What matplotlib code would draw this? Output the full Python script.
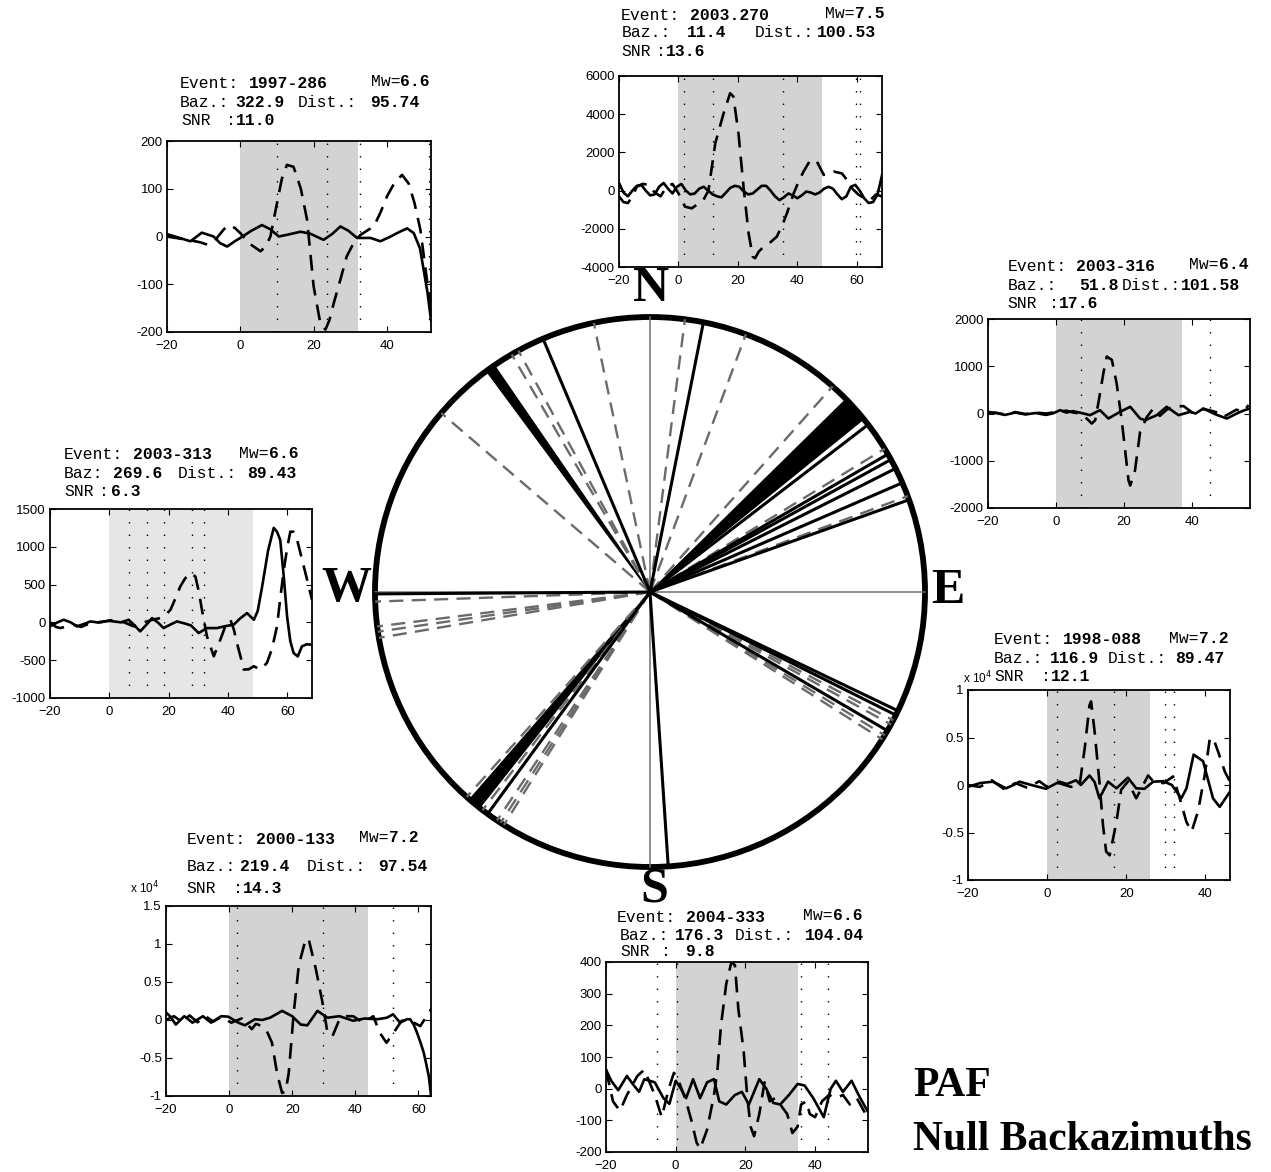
import numpy as np
import matplotlib.pyplot as plt
from matplotlib.patches import Circle, Wedge

W, H = 1271, 1172

# ---------------- rose: null backazimuths (deg clockwise from N)
solid_baz = [337.1, 11.2, 52.5, 59.9, 61.2, 63.3, 66.6, 70.4,
             115.6, 116.6, 120.3, 176.2, 216.2, 269.6]
dashed_baz = [348.2, 329.8, 331.4, 310.6, 7.3, 20.4, 41.6, 58.6, 69.6,
              117.8, 118.8, 121.4, 122.4, 268.0, 262.8, 261.7, 260.4,
              221.8, 217.5, 213.8, 212.9, 212.1]
wedge_baz = [(323.5, 325.5), (45.5, 51.0), (218.3, 221.0)]

# ---------------- event headers
events = ['1997-286', '2003.270', '2003-313', '2003-316', '1998-088', '2000-133', '2004-333']
mws = ['6.6', '7.5', '6.6', '6.4', '7.2', '7.2', '6.6']
bazs = ['322.9', '11.4', '269.6', '51.8', '116.9', '219.4', '176.3']
dists = ['95.74', '100.53', '89.43', '101.58', '89.47', '97.54', '104.04']
snrs = ['11.0', '13.6', '6.3', '17.6', '12.1', '14.3', '9.8']
baz_labels = ['Baz.:', 'Baz.:', 'Baz:', 'Baz.:', 'Baz.:', 'Baz.:', 'Baz.:']

# ---------------- time windows
span_end = [32.2, 48.3, 48.4, 37.0, 25.9, 43.9, 35.0]
dotted = [[10, 23.6, 32.7, 51.4], [2.0, 11.6, 35.2, 59.8, 61.2],
          [6.7, 12.7, 18.5, 27.9, 31.8], [7.4, 45.3], [2.5, 17, 29.7, 32],
          [2.4, 29.8, 51.9], [-5.4, 0.3, 35.9, 43.8]]

# ---------------- waveforms (time s, amplitude); panels 5,6 in units of 1e4
p1_solid = [(-20, 5), (-17, -2), (-13.6, -10), (-10.5, 8), (-7.3, 0), (-5.5, -14), (-3.6, -21),
            (-1.5, -10), (0, -3), (3, 12), (5.9, 24), (8.2, 15), (10.5, 0), (13, 4), (16.4, 10),
            (19, 6), (22.7, -7), (25, 5), (27.3, 21), (29.5, 12), (31.8, -3), (35.5, -3),
            (38.2, -10), (41, 0), (43.5, 10), (45.5, 17), (47.3, 7), (49, -25), (50, -70),
            (51, -115), (52, -175)]
p1_dash = [(-20, 0), (-16, -5), (-13.6, -8), (-11, -12), (-9, -17), (-6.4, -3), (-4.5, 15),
           (-3.2, 24), (-1.5, 18), (0, 7), (2.5, -15), (5.5, -31), (7, -20), (8.2, 0), (10, 70),
           (11.3, 120), (12.7, 150), (14.5, 146), (16.5, 100), (18.2, 35), (20, -105),
           (21.8, -181), (23.2, -195), (24.3, -175), (25.5, -139), (27.3, -90), (29, -42),
           (31, -12), (32.7, 3), (34.5, 12), (36.4, 21), (38.2, 50), (40, 84), (42, 112),
           (44.1, 129), (45.9, 111), (47.5, 70), (49.1, 14), (50.9, -91), (52, -139)]
p2_solid = [(-20, 400), (-18.5, -100), (-17, -300), (-15.5, 0), (-14, 250), (-12.5, 300),
            (-11, 0), (-9.5, -250), (-8, -200), (-6.5, 200), (-5, 400), (-3.5, 100), (-2, -150),
            (-0.5, 200), (1, 350), (2.5, 0), (4, -200), (5.5, -150), (7, 100), (8.5, 200),
            (10, 0), (11.5, -200), (13, -300), (14.5, -350), (16, -100), (17.5, 150), (19, 250),
            (20.5, 200), (22, -50), (23.5, -200), (25, -150), (26.5, 50), (28, 250), (29.5, 250),
            (31, 0), (32.5, -300), (34, -500), (35.5, -350), (37, -150), (38.5, -250), (40, -400),
            (41.5, -250), (43, -50), (44.5, -100), (46, -200), (47.5, -100), (49, 100), (50.5, 200),
            (52, 100), (53.5, -200), (55, -450), (56.5, -300), (58, 200), (59.5, 300), (61, 0),
            (62.5, -400), (64, -650), (65.5, -600), (67, -200), (68.5, 800)]
p2_dash = [(-20, -300), (-18.5, -600), (-17, -650), (-15.5, -300), (-14, 200), (-12, 350),
           (-10, 300), (-8, -100), (-6, -300), (-4, 200), (-2, 350), (0, -140), (2.2, -840),
           (4.5, -930), (6.5, -700), (8.4, -490), (10.1, 0), (12.4, 2480), (15.2, 4050),
           (17.4, 5100), (18.5, 4920), (20.2, 3000), (21.9, 210), (23.6, -2230), (25, -3460),
           (25.8, -3540), (27, -3200), (28.7, -2930), (31, -2700), (33.1, -2410), (35, -1800),
           (36.5, -1190), (38.8, -140), (40.5, 500), (42.1, 1000), (44.4, 1600), (46.6, 1520),
           (48.9, 820), (50.5, 900), (52.2, 1000), (55, 900), (56.7, 560), (58.5, 100),
           (60.5, -200), (62.5, -400), (64.6, -490), (66.5, -200), (68.5, -310)]
p3_solid = [(-20, -53), (-17.5, 0), (-15.4, 35), (-13, 0), (-10.9, -53), (-8.5, -20), (-6.4, 13),
            (-4, 0), (-1.9, 13), (0, 20), (1.5, 13), (4, 0), (6.5, 35), (8.5, -40), (10.4, -119),
            (12.5, -30), (14.4, 57), (16.3, 0), (18.3, -75), (20.5, -30), (22.8, 13), (25, -10),
            (27.5, -40), (30.1, -141), (32.9, -75), (36.3, -75), (39, -50), (41.9, -31), (44, 50),
            (46.4, 123), (48.7, 35), (50, 150), (51.5, 475), (53.5, 950), (55.4, 1250),
            (56.5, 1200), (57.6, 1090), (58.8, 600), (59.9, 79), (61, -250), (62.1, -405),
            (63.5, -450), (64.9, -317), (66.5, -290), (68.3, -295)]
p3_dash = [(-20, 0), (-18, -60), (-16.5, -75), (-14, -50), (-12, -31), (-9.5, -60), (-7, -20),
           (-5, 0), (-3, 0), (0, 25), (2.6, 35), (5, 0), (8.2, -53), (10.5, -10), (12.7, 13),
           (15, 40), (17.2, 57), (19, 100), (20.6, 167), (22.3, 320), (23.9, 475), (25.5, 580),
           (27.3, 651), (29, 607), (30.2, 400), (31.2, 167), (32.9, -185), (35.2, -449),
           (37.4, -229), (39, -60), (40.8, 35), (42, -100), (43, -273), (44.2, -450),
           (45.3, -624), (47, -620), (48.7, -580), (50.9, -624), (53.1, -537), (54.8, -350),
           (56.5, -53), (57.7, 350), (58.8, 695), (60, 1000), (61, 1200), (62, 1200),
           (63.3, 1090), (64.7, 870), (66.1, 651), (68.3, 299)]
p4_solid = [(-20, 35), (-17, 0), (-15, -30), (-12, 20), (-9, -20), (-6, 10), (-3, -30), (-1, 0),
            (1.2, 71), (3, 20), (5, 50), (7.5, 10), (10, -35), (12.9, 71), (15.4, -106),
            (18.8, 35), (21.8, 142), (24.7, -106), (26.2, -142), (29.6, -35), (32.5, 142),
            (36, -35), (39.4, 35), (41, 0), (43.3, 106), (46.3, 0), (48, -50), (50.2, -106),
            (53.1, 0), (55, 60), (57, 106)]
p4_dash = [(-20, 0), (-18, 20), (-15, -20), (-12, 30), (-9, -10), (-6, 20), (-3, 0), (0, 30),
           (3, 60), (5, 20), (7, 0), (9, -106), (10.5, -213), (11.5, -142), (12.5, 248),
           (13.9, 851), (14.9, 1206), (16.4, 1135), (17.8, 638), (19.3, -142), (20.3, -780),
           (21.3, -1418), (21.8, -1525), (23.2, -1206), (24.7, -390), (26.7, -71), (28.6, 106),
           (30.5, -50), (32.5, 80), (34.5, 150), (37.5, 156), (40, 20), (42.5, 100), (45, 70),
           (47.5, 20), (49.2, -71), (51, 0), (53, 80), (55, 40), (56.6, 177)]
p5_solid = [(-20, -0.02), (-17, 0.02), (-13.8, 0.035), (-12, 0), (-10.4, -0.035), (-8.5, 0),
            (-7, 0.035), (-4, 0), (-0.3, -0.04), (1.5, 0), (3.1, 0.035), (5, 0.01), (7.3, 0.05),
            (8.5, 0.0), (10.7, 0.1), (12, 0.03), (13.2, -0.14), (15.4, 0.035), (17.5, -0.035),
            (20.4, 0.077), (22.5, -0.035), (24.6, -0.04), (26.8, 0.035), (29.3, 0.04),
            (31.5, 0.0), (33.9, -0.14), (35.2, -0.035), (37, 0.32), (39.4, 0.25), (41, 0),
            (41.9, -0.14), (43.6, -0.23), (46.2, -0.07)]
p5_dash = [(-20, 0), (-17, -0.02), (-14, 0.05), (-11, -0.04), (-8, 0.02), (-5, -0.03),
           (-2, 0.04), (0, -0.02), (3, 0.02), (6, -0.02), (8.2, 0), (9.5, 0.39), (10.7, 0.84),
           (11.1, 0.88), (12, 0.56), (13.2, 0.035), (14.1, -0.42), (14.9, -0.7), (15.8, -0.74),
           (17.5, -0.39), (18.7, -0.05), (20.4, 0.035), (22.5, -0.14), (24, -0.02), (25.5, 0.1),
           (27, 0.03), (29.5, 0.02), (31.8, 0.09), (33.5, -0.14), (35.2, -0.39), (36.5, -0.49),
           (38.1, -0.28), (39.8, 0.1), (41.1, 0.49), (42, 0.49), (43.2, 0.35), (44.9, 0.14),
           (46.2, 0.035)]
p6_solid = [(-20, 0.1), (-18.5, 0.04), (-16.9, -0.06), (-14.2, 0.05), (-11.6, -0.035),
            (-8.3, 0.05), (-5.7, -0.035), (-2.5, 0.05), (-0.3, 0.044), (2.9, -0.035), (5, -0.07),
            (8.2, 0.01), (10.5, 0.0), (13, 0.03), (16.8, 0.12), (20, 0.05), (22.7, -0.06),
            (24.8, -0.07), (28, 0.12), (31.2, 0.03), (35, 0.05), (39.3, -0.01), (43, 0.02),
            (47, 0.01), (50, 0.03), (52, 0.075), (54.2, -0.035), (56.4, 0.01), (57.4, 0.01),
            (58.5, -0.06), (59.6, -0.17), (60.7, -0.3), (61.7, -0.43), (62.6, -0.6),
            (63.3, -0.74), (64, -0.99)]
p6_dash = [(-20, 0), (-17.5, 0.05), (-15, -0.02), (-12.5, 0.06), (-10, -0.03), (-7.5, 0.05),
           (-5, -0.02), (-2.5, 0.04), (0.7, -0.035), (4, 0.02), (7.2, -0.12), (8.5, -0.05),
           (10.4, -0.08), (12, -0.15), (13.6, -0.3), (15.2, -0.7), (16.8, -0.96), (17.9, -0.94),
           (18.9, -0.7), (19.7, -0.3), (20.5, 0.1), (22.1, 0.72), (24.3, 1.07), (25.3, 1.05),
           (27.5, 0.67), (29.6, 0.23), (31.2, -0.17), (32.8, -0.21), (35, 0.01), (37, 0.05),
           (39.3, 0.05), (42.5, -0.035), (45.7, 0.05), (47.8, -0.17), (49.9, -0.3),
           (52.1, -0.17), (54.7, -0.01), (57, 0.0), (60.6, -0.08), (64, 0.14)]
p7_solid = [(-20, 60), (-18.5, 25), (-16.5, -5), (-14, 40), (-12, 10), (-10.5, -10), (-9, 30),
            (-6, 20), (-3.5, -30), (-1.8, -48), (0, 25), (1.5, 0), (3, -30), (5, 30), (7, -30),
            (9, 20), (11, 30), (12.5, -40), (14.5, -50), (17, -20), (19, -10), (21, -50),
            (24, 30), (26, 0), (28, -45), (30, -50), (32.5, -20), (35, 15), (37, 10),
            (39.5, -30), (42.5, -90), (44.5, 0), (46, 25), (48, -10), (50.5, 25), (52.5, -20),
            (55, -70)]
p7_dash = [(-20, 60), (-18, -40), (-16, -70), (-14, -20), (-11, 40), (-9, 60), (-6, -20),
           (-4, -90), (-2, 0), (-0.5, 50), (1, 20), (3, -40), (4.5, -100), (6, -170), (7, -190),
           (9, -130), (11, -20), (12, 60), (13, 200), (14.5, 330), (16, 400), (17, 390),
           (18, 250), (19.5, 120), (20.5, -20), (21.5, -120), (22.5, -150), (24, -80),
           (25.5, 20), (27, -40), (28.5, -30), (30, -50), (32, -80), (33.5, -140), (35, -120),
           (36, -50), (37.5, -40), (38.5, -80), (40, -90), (42, -40), (44, -20), (46, -30),
           (48, -20), (50, -50), (52, -30), (55, -90)]
solids = [p1_solid, p2_solid, p3_solid, p4_solid, p5_solid, p6_solid, p7_solid]
dashes = [p1_dash, p2_dash, p3_dash, p4_dash, p5_dash, p6_dash, p7_dash]

# ---------------- layout (pixels)
boxes = [(167, 141, 431, 332), (619, 76, 882, 267), (50, 509, 312, 698), (988, 319, 1250, 508),
         (968, 690, 1230, 880), (166, 906, 431, 1096), (606, 962, 868, 1152)]
xlims = [(-20, 52), (-20, 68.5), (-20, 68.3), (-20, 57), (-20, 46.2), (-20, 64), (-20, 55.2)]
ylims = [(-200, 200), (-4000, 6000), (-1000, 1500), (-2000, 2000), (-1, 1), (-1, 1.5), (-200, 400)]
ysteps = [100, 2000, 500, 1000, 0.5, 0.5, 100]
span_colors = ['#d3d3d3', '#d3d3d3', '#e6e6e6', '#d3d3d3', '#d3d3d3', '#d3d3d3', '#d3d3d3']
# x event label, y line1, x mw label, y mw,
# x baz label, x baz value, x dist label, x dist value, y line2,
# x snr label, x colon, x snr value, y line3
hdr = [(180, 83.3, 370.7, 81.7, 180, 235, 298, 370, 102.3, 181.7, 226, 236, 120.7),
       (620.7, 15, 825, 14, 621.7, 687, 755, 817, 32.3, 621.7, 656, 666, 51.7),
       (64, 455, 239.3, 453.3, 64, 113, 178, 247, 473.3, 64, 99, 111, 491),
       (1007.3, 266.7, 1189.3, 264.3, 1007.3, 1079, 1122, 1181, 285.7, 1007.3, 1049, 1059, 304),
       (994, 640, 1169.3, 638.3, 994, 1050, 1108, 1175, 658.3, 994, 1041, 1051, 676.7),
       (186.7, 839, 359.3, 837.7, 186.7, 240, 307, 378, 866.7, 186.7, 233, 243, 888.3),
       (616.7, 917.7, 803.3, 916, 620, 675, 735, 805, 935, 620, 661, 685, 951.7)]
exp_label = {4: (963, 678), 5: (130, 888)}

MONO = 'Liberation Mono'
SANS = 'Liberation Sans'
SERIF = 'Liberation Serif'
HFS = 11.8                 # header font size (pt)
CW = HFS * 0.6 * 100 / 72  # monospace cell width (px)

fig = plt.figure(figsize=(W / 100, H / 100), dpi=100)
fig.patch.set_facecolor('white')


def ftext(x, y, s, **kw):
    fig.text(x / W, 1 - y / H, s, **kw)


def hdr_text(x, y, s, bold=False):
    ftext(x, y, s, family=MONO, fontsize=HFS, fontweight='bold' if bold else 'normal',
          va='center', ha='left')


for i in range(7):
    x0, y0, x1, y1 = boxes[i]
    ax = fig.add_axes([x0 / W, 1 - y1 / H, (x1 - x0) / W, (y1 - y0) / H])
    ax.axvspan(0, span_end[i], color=span_colors[i], lw=0, zorder=0)
    for t in dotted[i]:
        ax.axvline(t, color='k', lw=1.0, ls=(0, (1, 8)), zorder=1)
    ts, a = zip(*solids[i])
    ax.plot(ts, a, color='k', lw=1.9, zorder=3, solid_joinstyle='round')
    ts, a = zip(*dashes[i])
    ax.plot(ts, a, color='k', lw=1.9, dashes=(6, 3.5), zorder=3)
    ax.set_xlim(*xlims[i])
    ax.set_ylim(*ylims[i])
    ax.set_xticks(np.arange(-20, xlims[i][1] + 0.01, 20))
    lo, hi = ylims[i]
    ax.set_yticks(np.arange(lo, hi + ysteps[i] / 2, ysteps[i]))
    ax.yaxis.set_major_formatter(plt.FuncFormatter(lambda v, p: '%g' % v))
    ax.tick_params(direction='in', top=True, right=True, length=4, width=0.8, labelsize=9.5)
    ax.tick_params(axis='x', pad=6)
    ax.tick_params(axis='y', pad=3)
    for lab in ax.get_xticklabels() + ax.get_yticklabels():
        lab.set_family(SANS)
    for sp in ax.spines.values():
        sp.set_linewidth(1.3)

    h = hdr[i]
    hdr_text(h[0], h[1], 'Event:')
    hdr_text(h[0] + 7 * CW, h[1], events[i], True)
    hdr_text(h[2], h[3], 'Mw=')
    hdr_text(h[2] + 3 * CW, h[3], mws[i], True)
    hdr_text(h[4], h[8], baz_labels[i])
    hdr_text(h[5], h[8], bazs[i], True)
    hdr_text(h[6], h[8], 'Dist.:')
    hdr_text(h[7], h[8], dists[i], True)
    hdr_text(h[9], h[12], 'SNR')
    hdr_text(h[10], h[12], ':')
    hdr_text(h[11], h[12], snrs[i], True)
    if i in exp_label:
        ex, ey = exp_label[i]
        ftext(ex, ey, r'x 10$^4$', family=SANS, fontsize=8.5, va='center', ha='left')

# ---------------- rose diagram
R = 275
cx, cy = 650, 592
pad = 290
rax = fig.add_axes([(cx - pad) / W, 1 - (cy + pad) / H, 2 * pad / W, 2 * pad / H])
rax.set_xlim(-pad, pad)
rax.set_ylim(-pad, pad)
rax.set_aspect('equal')
rax.axis('off')
rax.plot([-R, R], [0, 0], color='#707070', lw=1.1)
rax.plot([0, 0], [-R, R], color='#707070', lw=1.1)
for a1, a2 in wedge_baz:
    rax.add_patch(Wedge((0, 0), R, 90 - a2, 90 - a1, fc='k', ec='k', lw=1))
for az in dashed_baz:
    r = np.radians(az)
    rax.plot([0, R * np.sin(r)], [0, R * np.cos(r)], color='#6a6a6a', lw=1.7, dashes=(6, 3.5))
for az in solid_baz:
    r = np.radians(az)
    rax.plot([0, R * np.sin(r)], [0, R * np.cos(r)], color='k', lw=2.2)
rax.add_patch(Circle((0, 0), R, fill=False, ec='k', lw=4.2))

for s, x, y in [('N', 651, 289), ('S', 654, 889), ('W', 346, 589), ('E', 948, 591)]:
    ftext(x, y, s, family=SERIF, fontweight='bold', fontsize=36, ha='center', va='center')

ftext(913, 1086, 'PAF', family=SERIF, fontweight='bold', fontsize=30, ha='left', va='center')
ftext(913, 1140, 'Null Backazimuths', family=SERIF, fontweight='bold', fontsize=30,
      ha='left', va='center')

fig.savefig('out.png', dpi=100, facecolor='white')
